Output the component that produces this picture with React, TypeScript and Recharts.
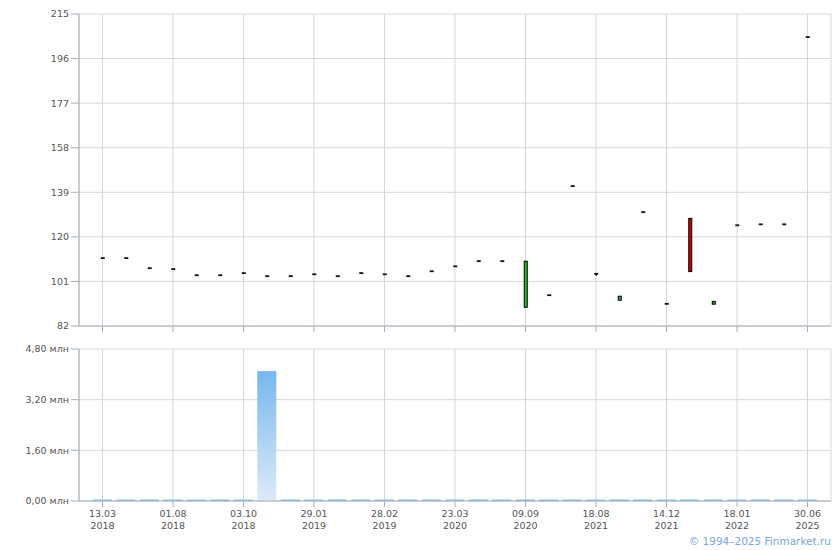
import React from 'react';
import { ComposedChart, Bar, XAxis, YAxis, CartesianGrid } from 'recharts';

// trade dates (every 3rd one is labelled on the axis)
const dates = [
  '13.03.2018', '22.05.2018', '27.06.2018', '01.08.2018', '29.08.2018', '14.09.2018',
  '03.10.2018', '29.10.2018', '07.12.2018', '29.01.2019', '11.02.2019', '19.02.2019',
  '28.02.2019', '20.06.2019', '05.11.2019', '23.03.2020', '22.05.2020', '06.07.2020',
  '09.09.2020', '29.10.2020', '26.03.2021', '18.08.2021', '23.09.2021', '21.10.2021',
  '14.12.2021', '29.12.2021', '11.01.2022', '18.01.2022', '15.07.2022', '10.01.2024',
  '30.06.2025',
];

const opens = [
  110.9, 110.9, 106.6, 106.2, 103.6, 103.6, 104.5, 103.2, 103.2, 104.0, 103.2,
  104.5, 104.0, 103.2, 105.3, 107.4, 109.6, 109.6, 90.0, 95.1, 141.6, 104.2,
  93.0, 130.5, 91.4, 127.9, 91.3, 124.9, 125.3, 125.3, 205.1,
];
const closes = [
  110.9, 110.9, 106.6, 106.2, 103.6, 103.6, 104.5, 103.2, 103.2, 104.0, 103.2,
  104.5, 104.0, 103.2, 105.3, 107.4, 109.6, 109.6, 109.6, 95.1, 141.6, 104.2,
  94.7, 130.5, 91.4, 105.2, 92.5, 124.9, 125.3, 125.3, 205.1,
];
const highs = [
  110.9, 110.9, 106.6, 106.2, 103.6, 103.6, 104.5, 103.2, 103.2, 104.0, 103.2,
  104.5, 104.0, 103.2, 105.3, 107.4, 109.6, 109.6, 109.6, 95.1, 141.6, 104.2,
  94.7, 130.5, 91.4, 127.9, 92.5, 124.9, 125.3, 125.3, 205.1,
];
const lows = [
  110.9, 110.9, 106.6, 106.2, 103.6, 103.6, 104.5, 103.2, 103.2, 104.0, 103.2,
  104.5, 104.0, 103.2, 105.3, 107.4, 109.6, 109.6, 90.0, 95.1, 141.6, 103.3,
  93.0, 130.5, 91.4, 105.2, 91.3, 124.9, 125.3, 125.3, 205.1,
];
const volumes = [
  50000, 48000, 52000, 50000, 47000, 51000, 49000, 4100000, 50000, 48000, 52000,
  50000, 49000, 51000, 50000, 48000, 52000, 50000, 51000, 49000, 50000, 48000,
  52000, 50000, 49000, 51000, 50000, 48000, 52000, 50000, 49000,
];

const priceTicks = [82, 101, 120, 139, 158, 177, 196, 215];
const volumeTicks = [0, 1600000, 3200000, 4800000];

const data = dates.map((date, i) => ({
  date,
  open: opens[i],
  close: closes[i],
  high: highs[i],
  low: lows[i],
  volume: volumes[i],
}));

const FONT = '"DejaVu Sans", Verdana, sans-serif';
const tickStyle = { fontSize: 9.5, fill: '#555', fontFamily: FONT };
const GRID = '#d3d7dc';
const AXIS = '#a9acb6';

// OHLC candle drawn from the [low, high] range bar
const Candle = (props: any) => {
  const { x, y, width, height, payload } = props;
  if (x == null || y == null) return null;
  const { open, close, high, low } = payload;
  const span = high - low;
  const k = span > 0 ? height / span : 0;
  const yOf = (v: number) => y + (high - v) * k;
  const cx = x + width / 2;
  const top = yOf(Math.max(open, close));
  const bottom = yOf(Math.min(open, close));
  const bodyH = bottom - top;
  const color = close > open ? '#1ec21e' : '#d00000';
  return (
    <g>
      {span > 0 && (
        <line x1={cx} x2={cx} y1={y} y2={y + height} stroke="#000" strokeWidth={1} />
      )}
      {bodyH < 1.5 ? (
        <rect x={x} y={top - 1} width={width} height={1.8} fill="#111" />
      ) : (
        <rect x={x + 0.5} y={top} width={width - 1} height={bodyH} fill={color} stroke="#000" strokeWidth={1} />
      )}
    </g>
  );
};

// gradient on tall bars, flat blue on the tiny ones
const VolumeBar = (props: any) => {
  const { x, y, width, height } = props;
  if (x == null || y == null || !height) return null;
  const fill = height > 6 ? 'url(#volFill)' : '#8ec4ef';
  return <rect x={x} y={y} width={width} height={height} fill={fill} />;
};

const DateTick = (props: any) => {
  const { x, y, payload } = props;
  const parts = String(payload.value).split('.');
  return (
    <text x={x} y={y} textAnchor="middle" style={tickStyle}>
      <tspan x={x} dy={8}>{parts[0] + '.' + parts[1]}</tspan>
      <tspan x={x} dy={12}>{parts[2]}</tspan>
    </text>
  );
};

const fmtVolume = (v: number) => (v / 1000000).toFixed(2).replace('.', ',') + ' млн';

const App = () => {
  return (
    <div style={{ position: 'absolute', left: 0, top: 0, width: 840, height: 550, background: '#fff' }}>
      <div style={{ position: 'absolute', left: 0, top: 0 }}>
        <ComposedChart width={840} height={340} data={data} margin={{ top: 14, right: 9, bottom: 8, left: 0 }}>
          <CartesianGrid stroke={GRID} strokeWidth={1} />
          <XAxis
            dataKey="date"
            interval={2}
            padding={{ left: 11.75, right: 11.75 }}
            height={6}
            tickSize={6}
            tickFormatter={() => ''}
            stroke={AXIS}
            tickLine={{ stroke: AXIS }}
          />
          <YAxis
            domain={[82, 215]}
            ticks={priceTicks}
            width={79}
            tickSize={8}
            interval={0}
            tick={tickStyle}
            stroke={AXIS}
            allowDataOverflow
          />
          <Bar
            dataKey={(d: any) => [d.low, d.high]}
            barSize={4}
            shape={<Candle />}
            isAnimationActive={false}
          />
        </ComposedChart>
      </div>
      <div style={{ position: 'absolute', left: 0, top: 340 }}>
        <ComposedChart width={840} height={210} data={data} margin={{ top: 9, right: 9, bottom: 9, left: 0 }}>
          <defs>
            <linearGradient id="volFill" x1="0" y1="0" x2="0" y2="1">
              <stop offset="0%" stopColor="#76b7ee" />
              <stop offset="100%" stopColor="#deebf8" />
            </linearGradient>
          </defs>
          <CartesianGrid stroke={GRID} strokeWidth={1} />
          <XAxis
            dataKey="date"
            interval={2}
            padding={{ left: 11.75, right: 11.75 }}
            height={40}
            tickSize={6}
            tick={<DateTick />}
            stroke={AXIS}
            tickLine={{ stroke: AXIS }}
          />
          <YAxis
            domain={[0, 4800000]}
            ticks={volumeTicks}
            width={79}
            tickSize={8}
            interval={0}
            tick={tickStyle}
            tickFormatter={fmtVolume}
            stroke={AXIS}
          />
          <Bar dataKey="volume" barSize={19} shape={<VolumeBar />} isAnimationActive={false} />
        </ComposedChart>
      </div>
      <div
        style={{
          position: 'absolute',
          right: 9,
          top: 535,
          fontFamily: FONT,
          fontSize: 10.5,
          color: '#7ba3e6',
        }}
      >
        © 1994–2025 Finmarket.ru
      </div>
    </div>
  );
};

export default App;
